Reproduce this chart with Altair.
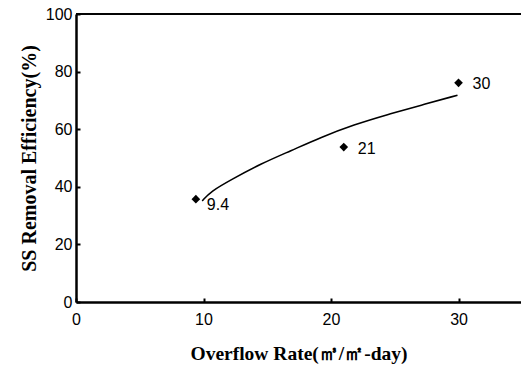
import altair as alt
import pandas as pd

# Measured points (overflow rate, removal efficiency)
pt_x = [9.4, 21, 30]
pt_y = [35.7, 53.8, 76.1]
pt_label = ["9.4", "21", "30"]

# Fitted curve
curve_x = [9.9, 10.57, 12.14, 14.49, 16.85, 19.2, 21.81, 24.43, 27.04, 29.92]
curve_y = [35.1, 38.4, 42.4, 48.0, 52.5, 57.2, 61.6, 65.1, 68.3, 71.8]

x_ticks = [0, 10, 20, 30]
y_ticks = [0, 20, 40, 60, 80, 100]

pts = pd.DataFrame({"x": pt_x, "y": pt_y, "label": pt_label})
curve = pd.DataFrame({"x": curve_x, "y": curve_y})

label_font = "Liberation Sans"
title_font = "Liberation Serif"

xscale = alt.Scale(domain=[0, 34.9], nice=False, zero=False)
yscale = alt.Scale(domain=[0, 100], nice=False)

xaxis = alt.Axis(values=x_ticks, title="Overflow Rate(㎥/㎡-day)", grid=False,
                 tickSize={"expr": "-4"}, tickWidth=2, tickColor="black",
                 domainWidth=2.5, domainColor="black",
                 labelFont=label_font, labelFontSize=16, labelColor="black",
                 labelPadding=13, labelFlush=False,
                 titleFont=title_font, titleFontSize=19.5, titleFontWeight="bold",
                 titleColor="black", titlePadding=17)
yaxis = alt.Axis(values=y_ticks, title="SS Removal Efficiency(%)", grid=False,
                 tickSize={"expr": "-4"}, tickWidth=2, tickColor="black",
                 domainWidth=2.5, domainColor="black",
                 labelFont=label_font, labelFontSize=16, labelColor="black",
                 labelPadding=8, labelFlush=False,
                 titleFont=title_font, titleFontSize=20, titleFontWeight="bold",
                 titleColor="black", titlePadding=6)

line = alt.Chart(curve).mark_line(color="black", strokeWidth=1.6, interpolate="basis").encode(
    x=alt.X("x:Q", scale=xscale, axis=xaxis),
    y=alt.Y("y:Q", scale=yscale, axis=yaxis),
)

points = alt.Chart(pts).mark_point(shape="diamond", filled=True, color="black", size=75, opacity=1).encode(
    x=alt.X("x:Q", scale=xscale),
    y=alt.Y("y:Q", scale=yscale),
)

labels_a = alt.Chart(pts).transform_filter(alt.datum.label != "9.4").mark_text(
    align="left", baseline="middle", dx=14, dy=1.5, font=label_font, fontSize=16, color="black"
).encode(x="x:Q", y="y:Q", text="label:N")

labels_b = alt.Chart(pts).transform_filter(alt.datum.label == "9.4").mark_text(
    align="left", baseline="middle", dx=11, dy=5.5, font=label_font, fontSize=16, color="black"
).encode(x="x:Q", y="y:Q", text="label:N")

top = alt.Chart(pts).mark_rule(color="black", strokeWidth=1.5).encode(y=alt.datum(100))

chart = alt.layer(top, line, points, labels_a, labels_b).properties(
    width=445, height=288,
    autosize=alt.AutoSizeParams(type="none"),
    padding={"left": 76, "top": 14, "right": 0, "bottom": 69},
    background="white",
).configure_view(stroke=None)

chart.save("out.html", embed_options={"renderer": "svg", "actions": False})
